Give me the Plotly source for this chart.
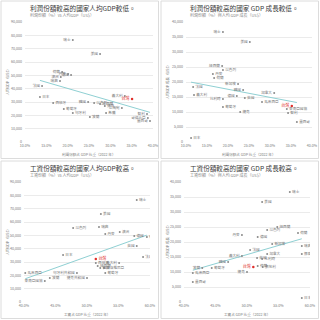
import numpy as np
import plotly.graph_objects as go

FONT = "Noto Sans CJK TC"
HILITE = "台灣"

# ---------- Top-left: profit share (%) vs GDP per capita (US$)
tl_names = ["瑞士", "美國", "荷蘭", "丹麥", "德國", "澳洲", "瑞典", "法國", "日本", "西班牙",
            "葡萄牙", "匈牙利", "韓國", "以色列", "紐西蘭", "捷克", "波蘭", "希臘", "立陶宛",
            "義大利", "台灣", "智利", "哥倫比亞", "墨西哥"]
tl_x = [21.2, 27.6, 18.7, 20.1, 20.8, 18.4, 18.2, 14.0, 13.5, 16.6,
        19.1, 21.2, 24.8, 26.2, 27.6, 28.7, 25.2, 29.0, 32.7,
        33.4, 35.1, 38.6, 38.8, 39.3]
tl_y = [76500, 66000, 52500, 51000, 50250, 48750, 45750, 42000, 33750, 29250,
        24750, 21750, 30000, 29250, 28500, 27000, 18750, 21750, 25500,
        34500, 32250, 21000, 18000, 15750]
tl_side = ["L", "L", "L", "L", "L", "L", "L", "L", "R", "R",
           "R", "R", "L", "R", "R", "R", "R", "R", "L",
           "L", "L", "L", "L", "L"]

# ---------- Top-right: profit share (%) vs GDP per capita growth (US$)
tr_names = ["瑞士", "美國", "紐西蘭", "以色列", "丹麥", "荷蘭", "新加坡", "法國", "韓國", "加拿大",
            "義大利", "德國", "英國", "比利時", "馬來西亞", "葡萄牙", "捷克", "台灣", "東南亞國協",
            "智利", "墨西哥", "日本"]
tr_x = [18.8, 25.2, 18.6, 18.8, 16.4, 16.7, 22.4, 11.7, 23.6, 31.0,
        11.9, 22.1, 24.0, 18.8, 28.1, 18.8, 22.9, 35.2, 34.0,
        34.3, 36.4, 11.2]
tr_y = [36700, 33300, 25300, 24000, 22700, 21300, 19300, 18300, 17300, 16300,
        15700, 15300, 14700, 14300, 13300, 11700, 10000, 12000, 11000,
        9700, 6700, 1300]
tr_side = ["L", "L", "L", "R", "R", "R", "L", "R", "L", "L",
           "R", "L", "R", "L", "R", "R", "R", "L", "R",
           "R", "R", "R"]

# ---------- Bottom-left: wage share (%) vs GDP per capita (US$)
bl_names = ["瑞士", "美國", "瑞典", "以色列", "丹麥", "澳洲", "德國", "荷蘭", "英國", "法國",
            "義大利", "日本", "台灣", "西班牙", "紐西蘭", "韓國", "斯洛維尼亞", "葡萄牙",
            "匈牙利共和國", "捷克共和國", "波蘭", "馬來西亞", "東南亞國協"]
bl_x = [57.9, 52.2, 51.9, 47.8, 52.9, 55.2, 57.5, 59.5, 57.9, 58.9,
        55.1, 46.2, 51.4, 51.4, 51.7, 52.1, 52.7, 52.9,
        48.4, 50.0, 44.1, 40.2, 43.3]
bl_y = [76500, 66000, 56250, 55500, 51000, 52500, 49500, 48750, 42000, 33750,
        29250, 35250, 32250, 29250, 27000, 25500, 25500, 21750,
        21750, 18000, 18000, 21750, 15750]
bl_side = ["R", "R", "R", "R", "R", "R", "R", "R", "L", "R",
           "L", "R", "R", "R", "R", "R", "R", "R",
           "L", "L", "R", "R", "L"]

# ---------- Bottom-right: wage share (%) vs GDP per capita growth (US$)
br_names = ["瑞士", "美國", "紐西蘭", "以色列", "荷蘭", "丹麥", "德國", "新加坡", "瑞典", "法國",
            "義大利", "加拿大", "英國", "比利時", "韓國", "挪威", "台灣", "芬蘭", "奧地利",
            "捷克", "葡萄牙", "波蘭", "馬來西亞", "墨西哥", "日本"]
br_x = [56.8, 52.4, 54.8, 53.2, 58.1, 49.2, 51.7, 54.0, 58.7, 50.5,
        49.2, 53.2, 51.6, 52.4, 47.0, 58.7, 51.0, 51.7, 52.5,
        50.0, 44.4, 42.9, 41.4, 41.4, 58.7]
br_y = [36700, 33300, 25000, 24000, 23000, 22300, 21700, 19300, 18700, 17300,
        15300, 16000, 14700, 14300, 13300, 16000, 11700, 12000, 11700,
        10000, 11300, 11300, 9700, 6700, 1300]
br_side = ["R", "R", "R", "R", "R", "L", "R", "R", "R", "R",
           "L", "R", "R", "R", "L", "R", "L", "R", "R",
           "L", "R", "L", "R", "R", "R"]

panels = [
    dict(names=tl_names, x=tl_x, y=tl_y, side=tl_side, xa="x", ya="y",
         xdom=(25, 153), ydom=(22, 142), xr=(10, 40), xdt=5, yr=(0, 90000), ydt=10000,
         title="利潤份額較高的國家人均GDP較低。", sub="利潤份額（%）vs 人均GDP（US$）",
         xt="利潤份額占 GDP 比重（2022 年）", yt="人均GDP（US$）", ox=0, oy=0),
    dict(names=tr_names, x=tr_x, y=tr_y, side=tr_side, xa="x2", ya="y2",
         xdom=(186, 312), ydom=(22, 142), xr=(10, 40), xdt=5, yr=(0, 40000), ydt=5000,
         title="利潤份額較高的國家 GDP 成長較低。", sub="利潤份額（%）與人均 GDP 成長（US$）",
         xt="利潤份額占 GDP 比重（2022 年）", yt="人均GDP 成長（US$）", ox=160, oy=0),
    dict(names=bl_names, x=bl_x, y=bl_y, side=bl_side, xa="x3", ya="y3",
         xdom=(24, 150), ydom=(182, 302), xr=(40, 60), xdt=5, yr=(0, 90000), ydt=10000,
         title="工資份額較高的國家人均GDP較高。", sub="工資份額（%）vs 人均GDP（US$）",
         xt="工資占 GDP 比重（2022 年）", yt="人均GDP（US$）", ox=0, oy=160),
    dict(names=br_names, x=br_x, y=br_y, side=br_side, xa="x4", ya="y4",
         xdom=(184, 310), ydom=(182, 302), xr=(40, 60), xdt=5, yr=(0, 40000), ydt=5000,
         title="工資份額較高的國家 GDP 成長較高。", sub="工資份額（%）與人均 GDP 成長（US$）",
         xt="工資占 GDP 比重（2022 年）", yt="人均GDP 成長（US$）", ox=160, oy=160),
]

W = H = 320
fig = go.Figure()
annotations = []
shapes = []
layout_axes = {}

for i, p in enumerate(panels):
    n = "" if i == 0 else str(i + 1)
    xs = np.array(p["x"], dtype=float)
    ys = np.array(p["y"], dtype=float)
    k, b = np.polyfit(xs, ys, 1)
    tx = np.array([xs.min(), xs.max()])
    fig.add_trace(go.Scatter(x=tx, y=k * tx + b, mode="lines", xaxis=p["xa"], yaxis=p["ya"],
                             line=dict(color="#8fd0d3", width=1), hoverinfo="skip", showlegend=False))
    for side in ("L", "R"):
        idx = [j for j, s in enumerate(p["side"]) if s == side and p["names"][j] != HILITE]
        fig.add_trace(go.Scatter(
            x=[p["x"][j] for j in idx], y=[p["y"][j] for j in idx],
            text=[p["names"][j] for j in idx], mode="markers+text",
            textposition="middle left" if side == "L" else "middle right",
            textfont=dict(size=3.6, color="#777", family=FONT),
            marker=dict(size=2, color="#8a8a8a"), xaxis=p["xa"], yaxis=p["ya"], showlegend=False))
    hj = [j for j, nm in enumerate(p["names"]) if nm == HILITE]
    fig.add_trace(go.Scatter(
        x=[p["x"][j] for j in hj], y=[p["y"][j] for j in hj], text=[HILITE] * len(hj),
        mode="markers+text",
        textposition=["middle left" if p["side"][j] == "L" else "middle right" for j in hj],
        textfont=dict(size=4, color="#e0302b", family=FONT),
        marker=dict(size=2.5, color="#e0302b"), xaxis=p["xa"], yaxis=p["ya"], showlegend=False))

    x0, x1 = p["xdom"]
    y0, y1 = p["ydom"]
    layout_axes["xaxis" + n] = dict(
        domain=[x0 / W, x1 / W], range=list(p["xr"]), dtick=p["xdt"], tick0=p["xr"][0],
        tickformat=".1f", ticksuffix="%", showgrid=False, zeroline=False, showline=False,
        automargin=False,
        tickfont=dict(size=3.6, color="#777", family=FONT), anchor=p["ya"], fixedrange=True)
    layout_axes["yaxis" + n] = dict(
        domain=[1 - y1 / H, 1 - y0 / H], range=list(p["yr"]), dtick=p["ydt"], tick0=0,
        tickformat=",", showgrid=True, gridcolor="#ebebeb", gridwidth=0.6, zeroline=False,
        showline=False, automargin=False, ticklabelstandoff=2,
        tickfont=dict(size=3.6, color="#777", family=FONT), anchor=p["xa"],
        fixedrange=True)

    ox, oy = p["ox"], p["oy"]
    annotations += [
        dict(text=p["title"], x=(ox + 28) / W, y=1 - (oy + 8) / H, xref="paper", yref="paper",
             xanchor="left", yanchor="middle", showarrow=False,
             font=dict(size=6.6, color="#3a3a3a", family=FONT)),
        dict(text=p["sub"], x=(ox + 28) / W, y=1 - (oy + 15) / H, xref="paper", yref="paper",
             xanchor="left", yanchor="middle", showarrow=False,
             font=dict(size=4, color="#888", family=FONT)),
        dict(text=p["xt"], x=((x0 + x1) / 2) / W, y=1 - (oy + 154) / H, xref="paper", yref="paper",
             xanchor="center", yanchor="middle", showarrow=False,
             font=dict(size=3.6, color="#777", family=FONT)),
        dict(text=p["yt"], x=(ox + 6.5) / W, y=1 - ((y0 + y1) / 2) / H, xref="paper", yref="paper",
             xanchor="center", yanchor="middle", showarrow=False, textangle=-90,
             font=dict(size=3.6, color="#777", family=FONT)),
    ]
    shapes.append(dict(type="rect", xref="paper", yref="paper",
                       x0=(ox + 1) / W, x1=(ox + 158.5) / W, y0=1 - (oy + 158.5) / H, y1=1 - (oy + 1) / H,
                       line=dict(color="#dcdcdc", width=1), fillcolor="rgba(0,0,0,0)", layer="below"))

fig.update_layout(
    width=W, height=H, margin=dict(l=0, r=0, t=0, b=0, autoexpand=False),
    paper_bgcolor="white", plot_bgcolor="white",
    font=dict(family=FONT), showlegend=False,
    annotations=annotations, shapes=shapes, **layout_axes)

fig.write_html("out.html", config=dict(displayModeBar=False))
